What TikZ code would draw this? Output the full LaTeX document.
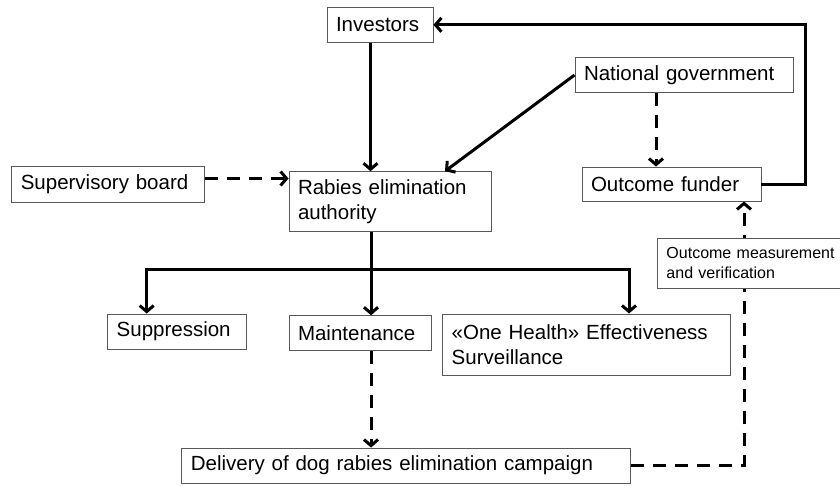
\documentclass[tikz,border=0pt]{standalone}
\usepackage{fontspec}
\setmainfont{Liberation Sans}
\usetikzlibrary{arrows.meta}
\begin{document}
\begin{tikzpicture}[x=1pt,y=-1pt,
  box/.style={draw=black!65, line width=0.9pt, fill=white, align=left,
    inner xsep=9pt, inner ysep=0pt,
    font=\fontsize{20.5}{24.6}\selectfont},
  smallbox/.style={box, font=\fontsize{16}{20}\selectfont},
  conn/.style={line width=3pt, line join=miter},
  arr/.style={conn, -{Straight Barb[length=6pt,width=14pt]}},
  darr/.style={arr, dash pattern=on 13pt off 9pt}]
\useasboundingbox (0,0) rectangle (840,485);
\fill[white] (0,0) rectangle (840,485);

\node[box, text width=88pt, minimum height=35pt] (inv) at (380,24.8) {Investors};
\node[box, text width=200pt, minimum height=35pt] (nat) at (684,75) {National government};
\node[box, text width=161pt, minimum height=34pt] (fund) at (671.5,184) {Outcome funder};
\node[box, text width=175pt, minimum height=35.6pt] (sup) at (108.3,184.5) {Supervisory board};
\node[box, text width=184pt, minimum height=60pt] (rab) at (390,201.7) {Rabies elimination\\authority};
\node[box, text width=121pt, minimum height=35pt] (supp) at (177.2,331.5) {Suppression};
\node[box, text width=124pt, minimum height=35pt] (main) at (360,333.2) {Maintenance};
\node[box, text width=270pt, minimum height=61.7pt] (one) at (586.7,344.8) {«One Health» Effectiveness\\Surveillance};
\node[box, text width=431pt, minimum height=35pt] (del) at (406.3,465.5) {Delivery of dog rabies elimination campaign};

\coordinate (hub) at (371,269);

% investors -> authority
\draw[arr] ([xshift=-9.5pt]inv.south) -- ([xshift=-9.5pt]inv.south |- rab.north);
% national government -> authority
\draw[arr] (nat.west) -- ([xshift=55pt]rab.north);
% national government -> outcome funder
\draw[darr] ([xshift=-28pt]nat.south) -- ([xshift=-28pt]nat.south |- fund.north);
% outcome funder -> investors
\draw[arr] (fund.east) -- ++(44,0) |- (inv.east);
% supervisory board -> authority
\draw[darr] ([yshift=6pt]sup.east) -- ([yshift=6pt]sup.east -| rab.west);
% authority -> branches
\draw[conn] (rab.south -| hub) -- (hub);
\draw[arr] (hub) -| ([xshift=-30.5pt]supp.north);
\draw[arr] (hub) -- (hub |- main.north);
\draw[arr] (hub) -| ([xshift=42.3pt]one.north);
% maintenance -> delivery
\draw[darr] (hub |- main.south) -- (hub |- del.north);
% delivery -> outcome funder
\draw[darr] (del.east) -| ([xshift=72.5pt]fund.south);

\node[smallbox, text width=190pt, minimum height=50pt, anchor=west] (meas) at (657,263) {Outcome measurement\\and verification};
\end{tikzpicture}
\end{document}
